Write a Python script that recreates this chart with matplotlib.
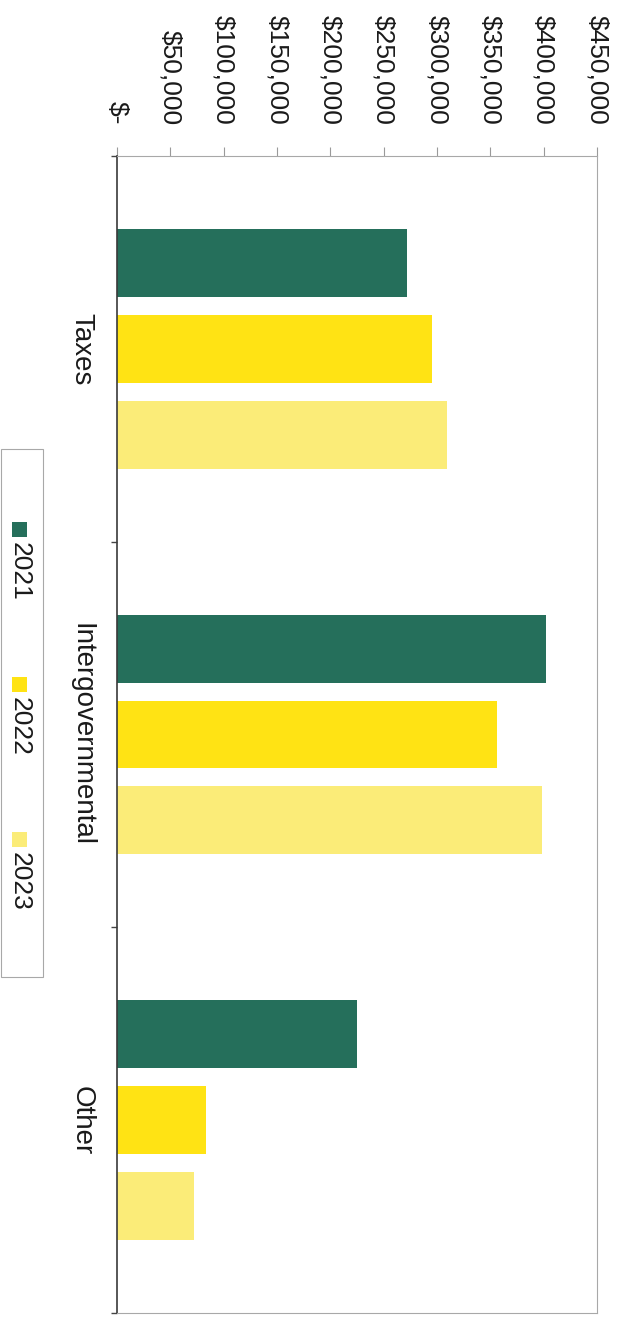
import matplotlib
matplotlib.use("Agg")
import matplotlib.pyplot as plt
from matplotlib.patches import Rectangle
from matplotlib.ticker import FixedLocator, FuncFormatter
import numpy as np

# Revenue by source, three fiscal years
categories = ["Taxes", "Intergovernmental", "Other"]
years = ["2021", "2022", "2023"]
values_2021 = [272000, 402000, 225000]
values_2022 = [295000, 356000, 83000]
values_2023 = [309000, 398000, 72000]
value_ticks = [0, 50000, 100000, 150000, 200000, 250000, 300000, 350000, 400000, 450000]

colors = ["#256f5b", "#ffe314", "#fbec78"]
series = [values_2021, values_2022, values_2023]

plt.rcParams["font.family"] = ["Liberation Sans", "DejaVu Sans"]
TEXT = "#1a1a1a"
FS = 19
FS_CAT = 20

W, H = 629, 1320
fig = plt.figure(figsize=(W / 100, H / 100), dpi=100)


def fx(px):
    return px / W


def fy(py):
    return 1 - py / H


ax = fig.add_axes([fx(117), fy(1313), fx(597) - fx(117), fy(156) - fy(1313)])

idx = np.arange(len(categories))
offsets = [-0.2225, 0.0, 0.2225]
bar_h = 0.176
for vals, off, col in zip(series, offsets, colors):
    ax.barh(idx + off, vals, height=bar_h, color=col, edgecolor="none")

ax.set_xlim(0, 450000)
ax.set_ylim(len(categories) - 0.5, -0.5)

# value axis along the top
ax.xaxis.tick_top()
ax.xaxis.set_major_locator(FixedLocator(value_ticks))
ax.xaxis.set_major_formatter(
    FuncFormatter(lambda v, p: "$-" if v == 0 else f"${v:,.0f}"))
ax.tick_params(axis="x", which="major", direction="out", length=6.5,
               width=0.8, color="#9a9a9a", pad=16, labelsize=FS,
               labelcolor=TEXT, labelrotation=-90)
for lab in ax.get_xticklabels():
    lab.set_verticalalignment("bottom")
    lab.set_horizontalalignment("center")

# category axis on the left
ax.set_yticks(idx)
ax.set_yticklabels(categories)
ax.yaxis.set_minor_locator(FixedLocator(np.arange(-0.5, len(categories), 1.0)))
ax.tick_params(axis="y", which="major", length=0, pad=16, labelsize=FS_CAT,
               labelcolor=TEXT)
ax.tick_params(axis="y", which="minor", direction="out", length=4,
               width=1.0, color="#444444")
for lab in ax.get_yticklabels():
    lab.set_rotation(-90)
    lab.set_verticalalignment("center")
    lab.set_horizontalalignment("right")

for side in ["top", "right", "bottom"]:
    ax.spines[side].set_color("#a8a8a8")
    ax.spines[side].set_linewidth(0.8)
ax.spines["left"].set_color("#3a3a3a")
ax.spines["left"].set_linewidth(1.2)

# legend, drawn upright along the left margin
fig.add_artist(Rectangle((fx(1), fy(977)), fx(43) - fx(1), fy(449) - fy(977),
                         transform=fig.transFigure, facecolor="white",
                         edgecolor="#a8a8a8", linewidth=0.8))
marker_tops = [522, 677, 832]
for year, col, top in zip(years, colors, marker_tops):
    fig.add_artist(Rectangle((fx(12), fy(top + 15)), fx(27) - fx(12),
                             fy(top) - fy(top + 15),
                             transform=fig.transFigure, facecolor=col,
                             edgecolor="none"))
    fig.text(fx(20), fy(top + 20), year, rotation=-90, ha="center", va="top",
             fontsize=FS, color=TEXT)

fig.savefig("out.png", dpi=100, facecolor="white")
